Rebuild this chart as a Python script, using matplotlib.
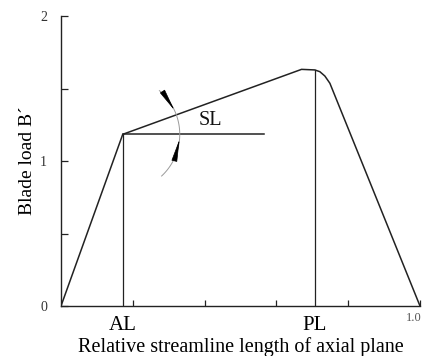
import numpy as np
import matplotlib.pyplot as plt
from matplotlib.transforms import offset_copy

plt.rcParams["font.family"] = ["Liberation Serif", "DejaVu Serif"]

# blade load distribution along the axial-plane streamline
load_x = [0.0, 0.172, 0.670, 0.707, 0.721, 0.735, 0.749, 1.0]
load_y = [0.0, 1.184, 1.632, 1.628, 1.616, 1.586, 1.536, 0.0]

al_x, al_y = 0.172, 1.184
pl_x, pl_y = 0.707, 1.628
sl_end = 0.566

W, H = 422, 356
fig = plt.figure(figsize=(W / 100, H / 100), dpi=100)
ax = fig.add_axes([61 / W, 50 / H, 359 / W, 290 / H])

lc = "#222222"
ax.plot(load_x, load_y, color=lc, lw=1.1)
ax.plot([al_x, al_x], [0, al_y], color=lc, lw=0.9)
ax.plot([pl_x, pl_x], [0, pl_y], color=lc, lw=0.9)
ax.plot([al_x, sl_end], [al_y, al_y], color=lc, lw=1.1)

ax.set_xlim(0, 1)
ax.set_ylim(0, 2)

# angle marker around the AL corner (drawn as a circle in pixel space)
px_x = 359.0
px_y = 145.0
r = 57.0
t = np.radians(np.linspace(-47, 50, 100))
ax.plot(al_x + r / px_x * np.cos(t), al_y + r / px_y * np.sin(t),
        color="#9a9a9a", lw=0.7)


def arc_pt(deg):
    a = np.radians(deg)
    return (al_x + r / px_x * np.cos(a), al_y + r / px_y * np.sin(a))


for tail, tip in [(40, 25), (-22, -5)]:
    ax.annotate("", xy=arc_pt(tip), xytext=arc_pt(tail),
                arrowprops=dict(arrowstyle="-|>,head_length=0.7,head_width=0.09",
                                color="black", lw=0.5, mutation_scale=20,
                                shrinkA=0, shrinkB=0))

ax.text(0.415, 1.276, "SL", fontsize=14.5, color="#111111", ha="center", va="center")

for s in ["top", "right"]:
    ax.spines[s].set_visible(False)
for s in ["left", "bottom"]:
    ax.spines[s].set_color(lc)
    ax.spines[s].set_linewidth(1.0)

ax.set_yticks([0, 1, 2])
ax.set_yticklabels(["0", "1", "2"], fontsize=10, color="#333333")
ax.set_yticks([0.5, 1.5], minor=True)
ax.tick_params(axis="y", which="both", direction="in", length=5, width=0.9,
               pad=10, colors=lc)
ax.tick_params(axis="y", labelcolor="#333333")

ax.set_xticks([al_x, pl_x])
ax.set_xticklabels(["AL", "PL"], fontsize=15)
ax.set_xticks([0.2, 0.4, 0.6, 0.8, 1.0], minor=True)
ax.tick_params(axis="x", which="major", length=0, pad=7)
ax.tick_params(axis="x", which="minor", direction="in", length=4, width=0.9,
               colors=lc)

# end label sits just inside the right edge
ax.text(1.0, 0, "1.0", fontsize=9, color="#555555", ha="right", va="top",
        transform=offset_copy(ax.transData, fig=fig, x=2, y=-6, units="dots"))

ax.set_ylabel("Blade load B\u00b4", fontsize=14, labelpad=3)
ax.set_xlabel("Relative streamline length of axial plane", fontsize=14.5, labelpad=2)

fig.savefig("out.png", dpi=100)
